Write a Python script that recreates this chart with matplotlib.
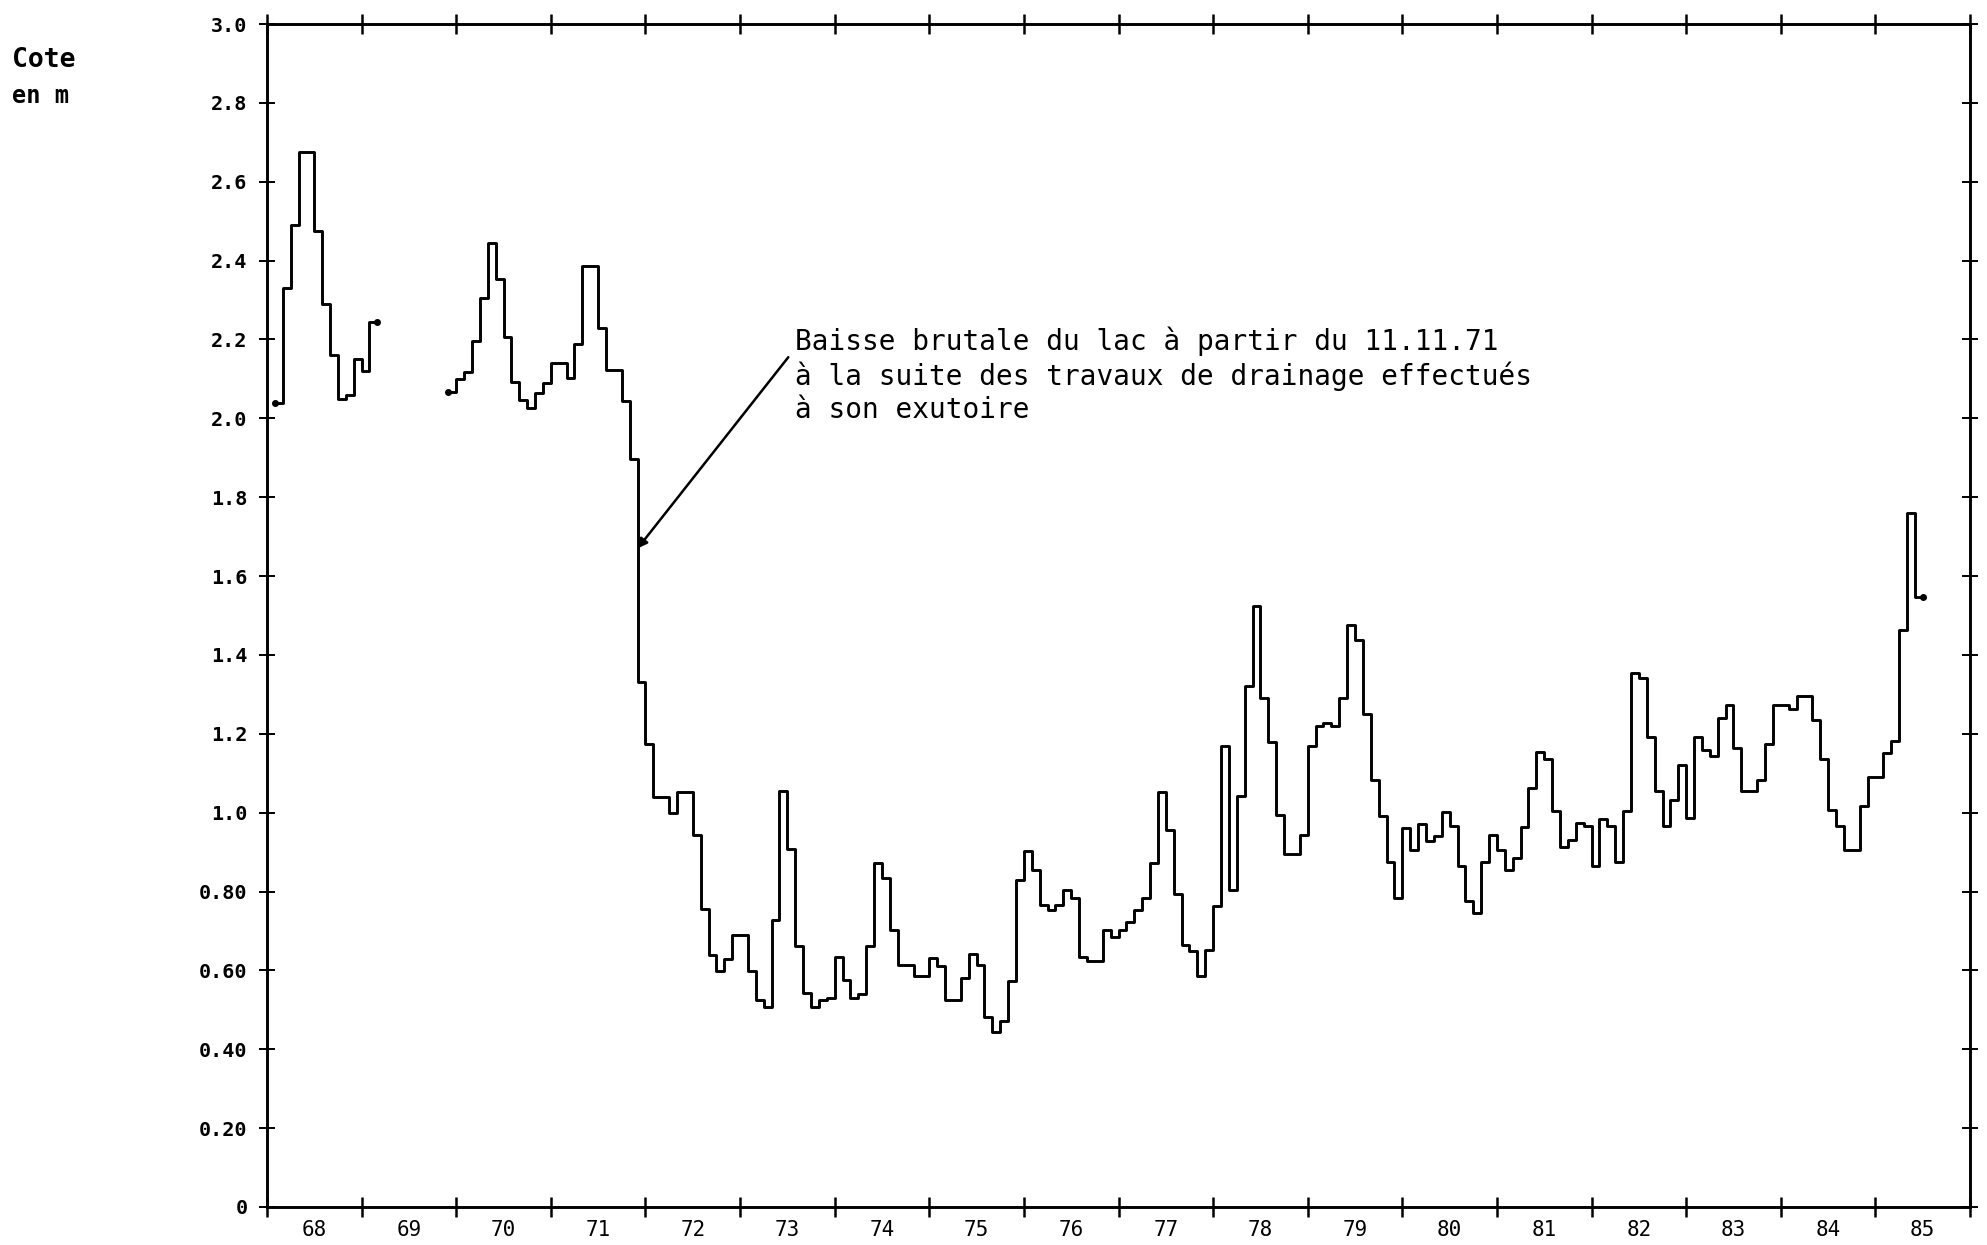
import numpy as np
import matplotlib.pyplot as plt
from matplotlib.ticker import FixedLocator, NullFormatter, FixedFormatter

nan = np.nan

# Cote mensuelle du lac (m), janvier 1968 -> juin 1985 ; nan = pas de mesure
cote_1968 = [nan, 2.04, 2.33, 2.49, 2.675, 2.675, 2.475, 2.29, 2.16, 2.05, 2.06, 2.15]
cote_1969 = [2.12, 2.245, nan, nan, nan, nan, nan, nan, nan, nan, nan, 2.066]
cote_1970 = [2.10, 2.118, 2.196, 2.304, 2.444, 2.353, 2.205, 2.092, 2.046, 2.027, 2.063, 2.09]
cote_1971 = [2.14, 2.14, 2.103, 2.188, 2.387, 2.387, 2.228, 2.123, 2.123, 2.044, 1.898, 1.332]
cote_1972 = [1.175, 1.039, 1.04, 1.0, 1.052, 1.052, 0.943, 0.756, 0.638, 0.599, 0.63, 0.689]
cote_1973 = [0.689, 0.599, 0.525, 0.508, 0.728, 1.056, 0.909, 0.661, 0.542, 0.508, 0.525, 0.53]
cote_1974 = [0.633, 0.576, 0.531, 0.54, 0.661, 0.872, 0.835, 0.703, 0.614, 0.614, 0.585, 0.585]
cote_1975 = [0.632, 0.61, 0.525, 0.525, 0.58, 0.642, 0.614, 0.483, 0.445, 0.471, 0.572, 0.83]
cote_1976 = [0.904, 0.854, 0.766, 0.753, 0.766, 0.803, 0.784, 0.635, 0.623, 0.623, 0.703, 0.685]
cote_1977 = [0.703, 0.724, 0.754, 0.784, 0.873, 1.052, 0.957, 0.794, 0.665, 0.648, 0.585, 0.652]
cote_1978 = [0.764, 1.17, 0.805, 1.042, 1.322, 1.524, 1.291, 1.179, 0.995, 0.896, 0.896, 0.944]
cote_1979 = [1.17, 1.221, 1.228, 1.221, 1.291, 1.475, 1.437, 1.249, 1.082, 0.992, 0.876, 0.784]
cote_1980 = [0.962, 0.906, 0.972, 0.927, 0.94, 1.001, 0.967, 0.864, 0.775, 0.746, 0.876, 0.944]
cote_1981 = [0.906, 0.855, 0.885, 0.964, 1.063, 1.153, 1.135, 1.003, 0.913, 0.931, 0.974, 0.967]
cote_1982 = [0.864, 0.984, 0.967, 0.876, 1.003, 1.355, 1.342, 1.192, 1.054, 0.967, 1.033, 1.122]
cote_1983 = [0.987, 1.192, 1.16, 1.143, 1.24, 1.274, 1.164, 1.054, 1.054, 1.084, 1.173, 1.274]
cote_1984 = [1.274, 1.263, 1.295, 1.295, 1.235, 1.136, 1.006, 0.967, 0.906, 0.906, 1.016, 1.091]
cote_1985 = [1.091, 1.151, 1.181, 1.462, 1.761, 1.548]

cote = np.array(cote_1968 + cote_1969 + cote_1970 + cote_1971 + cote_1972 + cote_1973
                + cote_1974 + cote_1975 + cote_1976 + cote_1977 + cote_1978 + cote_1979
                + cote_1980 + cote_1981 + cote_1982 + cote_1983 + cote_1984 + cote_1985)
mois = 1968 + np.arange(len(cote)) / 12.0

annees = np.arange(1968, 1987)
etiquettes_x = [str(a)[2:] for a in range(1968, 1986)]
graduations_y = [0, 0.2, 0.4, 0.6, 0.8, 1.0, 1.2, 1.4, 1.6, 1.8, 2.0, 2.2, 2.4, 2.6, 2.8, 3.0]
etiquettes_y = ['0', '0.20', '0.40', '0.60', '0.80', '1.0', '1.2', '1.4', '1.6', '1.8',
                '2.0', '2.2', '2.4', '2.6', '2.8', '3.0']

W, H = 1987, 1245
fig = plt.figure(figsize=(W / 100, H / 100), dpi=100)
ax = fig.add_axes([267 / W, 1 - 1207 / H, (1970 - 267) / W, (1207 - 24) / H])

# courbe en escalier, un palier par mois
t = np.append(mois, mois[-1] + 1 / 12)
v = np.append(cote, cote[-1])
ax.step(t, v, where='post', color='black', lw=2.1)

# petit point au debut et a la fin de chaque troncon
ok = ~np.isnan(cote)
debut = ok & ~np.concatenate([[False], ok[:-1]])
fin = ok & ~np.concatenate([ok[1:], [False]])
ax.plot(mois[debut], cote[debut], 'o', color='black', ms=4)
ax.plot(mois[fin] + 1 / 12, cote[fin], 'o', color='black', ms=4)

ax.set_xlim(1968, 1986)
ax.set_ylim(0, 3.0)

ax.xaxis.set_major_locator(FixedLocator(annees))
ax.xaxis.set_major_formatter(NullFormatter())
ax.xaxis.set_minor_locator(FixedLocator(annees[:-1] + 0.5))
ax.xaxis.set_minor_formatter(FixedFormatter(etiquettes_x))
ax.tick_params(axis='x', which='major', direction='inout', length=15, width=1.8,
               top=True, bottom=True)
ax.tick_params(axis='x', which='minor', length=0, pad=9)

ax.yaxis.set_major_locator(FixedLocator(graduations_y))
ax.yaxis.set_major_formatter(FixedFormatter(etiquettes_y))
ax.tick_params(axis='y', direction='inout', length=12, width=1.4,
               left=True, right=True, pad=8)

for lab in ax.get_xticklabels(minor=True):
    lab.set_fontfamily('DejaVu Sans Mono')
    lab.set_fontsize(15)
for lab in ax.get_yticklabels():
    lab.set_fontfamily('DejaVu Sans Mono')
    lab.set_fontweight('bold')
    lab.set_fontsize(14.5)

for sp in ax.spines.values():
    sp.set_linewidth(2.1)

# titre de l'axe vertical
fig.text(12 / W, 1 - 60 / H, 'Cote', family='DejaVu Sans Mono', weight='bold',
         fontsize=19, va='center', ha='left')
fig.text(12 / W, 1 - 96 / H, 'en m', family='DejaVu Sans Mono', weight='bold',
         fontsize=17, va='center', ha='left')

# annotation de la baisse de 1971
ax.annotate('', xy=(1968 + 47 / 12, 1.67), xytext=(1973.51, 2.155),
            arrowprops=dict(arrowstyle='-|>', color='black', lw=1.8,
                            mutation_scale=14, shrinkA=0, shrinkB=0))
ax.text(1973.58, 2.109,
        'Baisse brutale du lac à partir du 11.11.71\n'
        'à la suite des travaux de drainage effectués\n'
        'à son exutoire',
        family='DejaVu Sans Mono', fontsize=20, linespacing=1.22,
        va='center', ha='left')

fig.savefig('out.png', dpi=100)
